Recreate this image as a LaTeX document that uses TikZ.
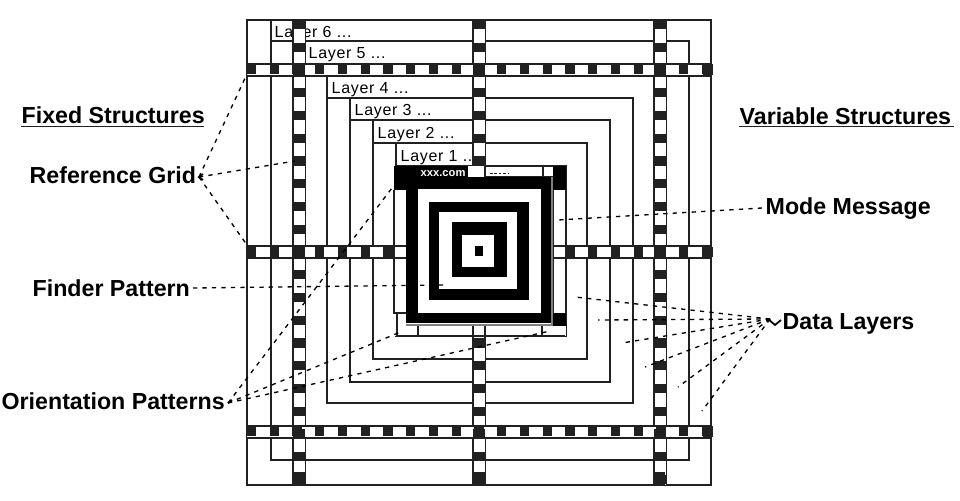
\documentclass[tikz,border=0pt]{standalone}
\usepackage{fontspec}
\setmainfont{Liberation Sans}
\newfontfamily\lblfont{Liberation Sans}
\newfontfamily\layerfont[LetterSpace=4.5]{Liberation Sans}
\definecolor{inkline}{gray}{0.13}
\begin{document}
\begin{tikzpicture}[
    x=.75pt,y=-.75pt,
    line width=1pt,draw=inkline,
    every node/.style={inner sep=0pt,anchor=base west},
    leader/.style={draw=black,line width=1pt,dash pattern=on 3.2pt off 3.9pt},
    tiptick/.style={draw=black,line width=1.3pt},
    biglabel/.style={font=\lblfont\fontsize{17.4}{19}\bfseries},
    layerlabel/.style={font=\layerfont\fontsize{12}{14}\selectfont},
    msgtext/.style={font=\bfseries\fontsize{8.4}{9}\selectfont,text=white}]
    \useasboundingbox (0,0) rectangle (960,500);
    % layers
    \draw (247,20) rectangle (711,485);
    \draw (271,20) -- (271,460) -- (689,460) -- (689,41) -- (271,41);
    \draw (327,76) -- (327,403) -- (633,403) -- (633,98) -- (327,98);
    \draw (350,98) -- (350,382) -- (610,382) -- (610,120) -- (350,120);
    \draw (373,120) -- (373,359) -- (587,359) -- (587,143) -- (373,143);
    \draw (396,143) -- (396,336) -- (566,336) -- (566,166) -- (396,166);
    \node[layerlabel] (layer6) at (274,37) {Layer 6 ...};
    \node[layerlabel] (layer5) at (308,58) {Layer 5 ...};
    \node[layerlabel] (layer4) at (331,93) {Layer 4 ...};
    \node[layerlabel] (layer3) at (354,115) {Layer 3 ...};
    \node[layerlabel] (layer2) at (377,138) {Layer 2 ...};
    \node[layerlabel] (layer1) at (400,161) {Layer 1 ...};
    % reference grid
    \foreach \sx in {293,654,473} {
        \fill[white] (\sx,20) rectangle ({\sx+12},485);
        \draw (\sx,20) -- (\sx,485);
        \draw ({\sx+12.5},20) -- ({\sx+12.5},485);
    }
    \foreach \sy in {64,426} {
        \fill[white] (247,\sy) rectangle (711,{\sy+12});
        \draw (247,\sy) -- (711,\sy);
        \draw (247,{\sy+12}) -- (711,{\sy+12});
    }
    \fill[white] (247,246) rectangle (711,258);
    \draw (247,246) -- (711,246);
    \draw (247,258) -- (711,258);
    \foreach \k in {-10,...,10} {
        \pgfmathsetmacro{\cx}{479+22.75*\k}
        \pgfmathsetmacro{\cy}{252+22.75*\k}
        \foreach \sy in {64,426}
            \fill[inkline] ({\cx-4.6},\sy) rectangle ({\cx+4.6},{\sy+10});
        \fill[inkline] ({\cx-4.6},247) rectangle ({\cx+4.6},257);
        \foreach \sx in {293,654,473}
            \fill[inkline] (\sx,{\cy-4.6}) rectangle ({\sx+12},{\cy+4.6});
    }
    \fill[inkline] (293,472) rectangle (305,485);
    \fill[inkline] (473,472) rectangle (486,485);
    \fill[inkline] (654,472) rectangle (665,485);
    \fill[inkline] (703,64) rectangle (713,75);
    \fill[inkline] (703,426) rectangle (713,437);
    \fill[inkline] (703,247) rectangle (713,257);
    % finder and mode message
    \fill[white] (394,166) rectangle (566,336);
    \draw (397,313) -- (397,336) -- (565,336);
    \draw[line width=2pt] (418,326) -- (418,336);
    \draw (542,326) -- (542,336);
    \draw (473,326) -- (473,340);
    \draw[line width=2pt] (485,326) -- (485,340);
    \draw (394,190) -- (394,313) -- (406,313);
    \draw (566,190) -- (566,313);
    \draw (553,190) -- (553,313);
    \draw (394,246) -- (406,246);
    \draw (394,258) -- (406,258);
    \draw (553,246) -- (566,246);
    \draw (553,258) -- (566,258);
    \draw (484,166) -- (553,166);
    \draw[line width=1.6pt] (485,166) -- (485,177);
    \draw (485,176.5) -- (543,176.5);
    \draw (543,167) -- (543,177) -- (553,177);
    \draw[draw=gray] (552,177) -- (552,325) -- (406,325);
    \fill[black] (394,166) rectangle (468,189);
    \fill[black] (394,166) rectangle (418,190);
    \fill[black] (553,166) rectangle (566,190);
    \fill[black] (553,313) rectangle (566,326);
    \fill[black] (406,177) rectangle (551,323);
    \fill[white] (418,189) rectangle (541,313);
    \fill[black] (429,202) rectangle (529,300);
    \fill[white] (439,212) rectangle (517,289);
    \fill[black] (452,222) rectangle (507,277);
    \fill[white] (462,235) rectangle (494,267);
    \fill[black] (475,246) rectangle (483,256);
    \node[msgtext] (msgname) at (420,176) {xxx.com};
    \draw[line width=1.1pt,dash pattern=on 2pt off 1.3pt] (490,173.5) -- (508,173.5);
    % labels
    \node[biglabel] (fixedlbl) at (21,123) {Fixed Structures};
    \node[biglabel] (varlbl) at (739,124) {Variable Structures};
    \node[biglabel] (refgrid) at (29,183) {Reference Grid};
    \node[biglabel] (finderlbl) at (32,296) {Finder Pattern};
    \node[biglabel] (orientlbl) at (1,409) {Orientation Patterns};
    \node[biglabel] (modelbl) at (765,214) {Mode Message};
    \node[biglabel] (datalbl) at (782,329) {Data Layers};
    \draw[line width=1.2pt] (21,126.5) -- (204,126.5);
    \draw[line width=1.2pt] (739,126.5) -- (954,126.5);
    % leaders
    \coordinate (refstart) at (199,177);
    \coordinate (orstart) at (228,403);
    \coordinate (datastart) at (770,319);
    \foreach \nm/\ex/\ey in {rg1/247/74,rg2/295/161,rg3/247/245}{
        \coordinate (\nm) at (\ex,\ey);
        \draw[leader] (refstart) -- (\nm);
    }
    \foreach \nm/\ex/\ey in {or1/392/188,or2/403/331,or3/550/331}{
        \coordinate (\nm) at (\ex,\ey);
        \draw[leader] (orstart) -- (\nm);
    }
    \foreach \nm/\ex/\ey in {dl1/575/297,dl2/598/320,dl3/622/343,dl4/645/367,dl5/678/387,dl6/702/411}{
        \coordinate (\nm) at (\ex,\ey);
        \draw[leader] (datastart) -- (\nm);
    }
    \coordinate (findend) at (443,285);
    \coordinate (modeend) at (558,220);
    \draw[leader] (193,288) -- (findend);
    \draw[leader] (762,208) -- (modeend);
    \draw[tiptick] (768,319) -- (775,325) -- (781,320);
    \draw[tiptick] (203,174) -- (199,177) -- (203,180);
    \draw[tiptick] (232,400) -- (228,403);
\end{tikzpicture}
\end{document}
